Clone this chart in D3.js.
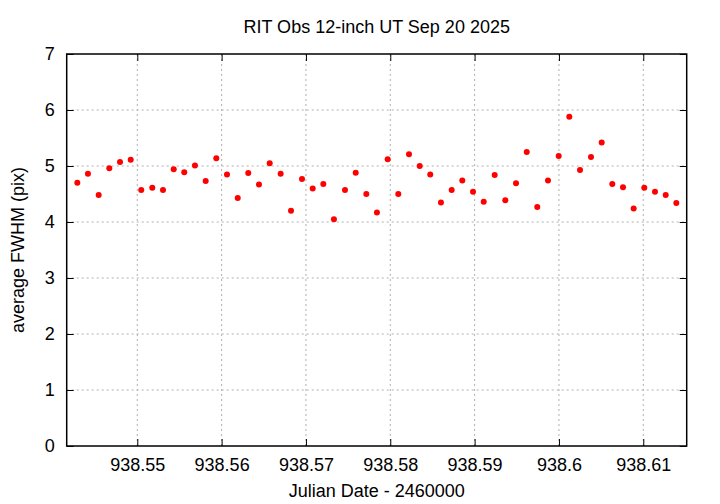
<!DOCTYPE html>
<html>
<head>
<meta charset="utf-8">
<script src="https://cdn.jsdelivr.net/npm/d3@7"></script>
<style>
  body { margin: 0; background: #fff; }
  svg { display: block; }
  text { font-family: "Liberation Sans", Arial, sans-serif; }
</style>
</head>
<body>
<div id="chart"></div>
<script>
// Julian date minus 2460000
var jd = [
    938.54289, 938.54415, 938.54542, 938.54668, 938.54795, 938.54922, 938.55047, 938.55178,
    938.55305, 938.55432, 938.55557, 938.55684, 938.55811, 938.55937, 938.56064, 938.56191,
    938.56316, 938.56443, 938.56570, 938.56700, 938.56823, 938.56953, 938.57080, 938.57206,
    938.57332, 938.57463, 938.57590, 938.57716, 938.57842, 938.57969, 938.58095, 938.58222,
    938.58349, 938.58474, 938.58601, 938.58728, 938.58854, 938.58981, 938.59108, 938.59238,
    938.59364, 938.59491, 938.59618, 938.59743, 938.59870, 938.59997, 938.60123, 938.60250,
    938.60380, 938.60507, 938.60633, 938.60760, 938.60886, 938.61012, 938.61139, 938.61266,
    938.61392
]
// average FWHM in pixels
var fwhm = [
    4.70, 4.86, 4.48, 4.96, 5.07, 5.11, 4.57, 4.61,
    4.57, 4.94, 4.89, 5.01, 4.73, 5.14, 4.85, 4.43,
    4.875, 4.67, 5.05, 4.86, 4.20, 4.77, 4.60, 4.68,
    4.05, 4.57, 4.88, 4.50, 4.17, 5.12, 4.50, 5.21,
    5.00, 4.85, 4.35, 4.57, 4.74, 4.54, 4.36, 4.84,
    4.39, 4.69, 5.25, 4.27, 4.74, 5.18, 5.88, 4.93,
    5.16, 5.42, 4.68, 4.62, 4.24, 4.61, 4.54, 4.48,
    4.34
]
var xTicks = [938.55, 938.56, 938.57, 938.58, 938.59, 938.60, 938.61]
var yTicks = [0, 1, 2, 3, 4, 5, 6, 7]

var points = jd.map(function (d, i) { return { x: d, y: fwhm[i] } })

var W = 720, H = 504
var margin = { top: 54, right: 33.3, bottom: 58, left: 66.7 },
    width = W - margin.left - margin.right,
    height = H - margin.top - margin.bottom

var svg = d3.select("#chart")
    .append("svg")
    .attr("width", W)
    .attr("height", H)

var g = svg.append("g")
    .attr("transform", "translate(" + margin.left + "," + margin.top + ")")

var x = d3.scaleLinear()
    .domain([938.54163, 938.61515])
    .range([0, width])

var y = d3.scaleLinear()
    .domain([0, 7])
    .range([height, 0])

// grid
g.append("g")
    .selectAll("line")
    .data(xTicks)
    .enter()
    .append("line")
    .attr("x1", function (d) { return x(d) })
    .attr("x2", function (d) { return x(d) })
    .attr("y1", 0)
    .attr("y2", height)
    .attr("stroke", "#b0b0b0")
    .attr("stroke-width", 1)
    .attr("stroke-dasharray", "2,3")

g.append("g")
    .selectAll("line")
    .data(yTicks.slice(1, -1))
    .enter()
    .append("line")
    .attr("x1", 0)
    .attr("x2", width)
    .attr("y1", function (d) { return y(d) })
    .attr("y2", function (d) { return y(d) })
    .attr("stroke", "#b0b0b0")
    .attr("stroke-width", 1)
    .attr("stroke-dasharray", "2,3")

// axes, ticks point inward, mirrored on the opposite side
function styleAxis(sel) {
    sel.select(".domain").remove()
    sel.selectAll("line").attr("stroke", "#000").attr("stroke-width", 1)
    sel.selectAll("text")
        .attr("fill", "#000")
        .style("font-size", "18px")
}

g.append("g")
    .attr("transform", "translate(0," + height + ")")
    .call(d3.axisBottom(x).tickValues(xTicks).tickFormat(d3.format("")).tickSizeInner(-7).tickPadding(12))
    .call(styleAxis)

g.append("g")
    .call(d3.axisTop(x).tickValues(xTicks).tickSizeInner(-7).tickFormat(""))
    .call(styleAxis)

g.append("g")
    .call(d3.axisLeft(y).tickValues(yTicks).tickFormat(d3.format("d")).tickSizeInner(-7).tickPadding(12))
    .call(styleAxis)

g.append("g")
    .attr("transform", "translate(" + width + ",0)")
    .call(d3.axisRight(y).tickValues(yTicks).tickSizeInner(-7).tickFormat(""))
    .call(styleAxis)

// frame
g.append("rect")
    .attr("width", width)
    .attr("height", height)
    .attr("fill", "none")
    .attr("stroke", "#000")
    .attr("stroke-width", 1.5)

// points
g.append("g")
    .selectAll("circle")
    .data(points)
    .enter()
    .append("circle")
    .attr("cx", function (d) { return x(d.x) })
    .attr("cy", function (d) { return y(d.y) })
    .attr("r", 3)
    .attr("fill", "#ff0000")

// labels
svg.append("text")
    .attr("x", margin.left + width / 2)
    .attr("y", 33)
    .attr("text-anchor", "middle")
    .style("font-size", "18px")
    .text("RIT Obs 12-inch UT Sep 20 2025")

svg.append("text")
    .attr("x", margin.left + width / 2)
    .attr("y", 497)
    .attr("text-anchor", "middle")
    .style("font-size", "18px")
    .text("Julian Date - 2460000")

svg.append("text")
    .attr("transform", "translate(24," + (margin.top + height / 2) + ") rotate(-90)")
    .attr("text-anchor", "middle")
    .style("font-size", "18px")
    .text("average FWHM (pix)")
</script>
</body>
</html>
